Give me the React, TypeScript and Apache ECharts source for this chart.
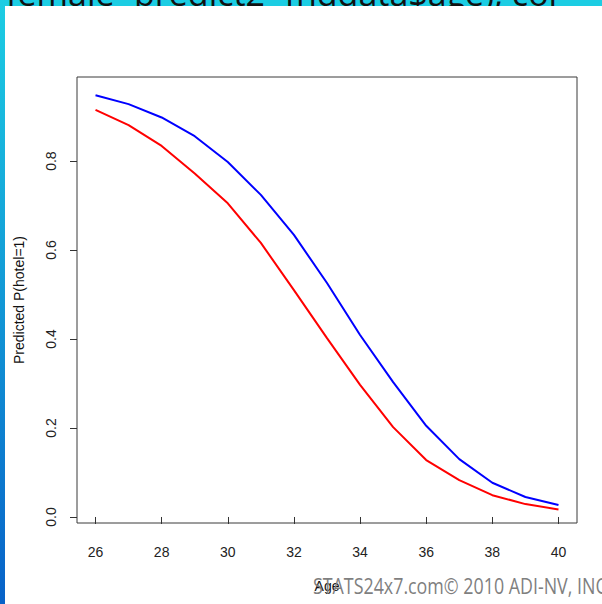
import React, { useEffect, useRef } from "react";
import * as echarts from "echarts";

const ages = [26, 27, 28, 29, 30, 31, 32, 33, 34, 35, 36, 37, 38, 39, 40];
const bluePred = [0.948, 0.928, 0.898, 0.856, 0.798, 0.724, 0.634, 0.526, 0.409, 0.303, 0.205, 0.13, 0.077, 0.045, 0.027];
const redPred = [0.915, 0.881, 0.834, 0.772, 0.705, 0.616, 0.51, 0.402, 0.297, 0.202, 0.128, 0.083, 0.049, 0.029, 0.017];
const xTicks = [26, 28, 30, 32, 34, 36, 38, 40];
const yTicks = [0, 0.2, 0.4, 0.6, 0.8];
const yTickLabels = ["0.0", "0.2", "0.4", "0.6", "0.8"];

export default function App() {
  const ref = useRef<HTMLDivElement>(null);
  useEffect(() => {
    if (!ref.current) return;
    const chart = echarts.init(ref.current, null, { renderer: "svg" });
    const font = "Liberation Sans, Arial, sans-serif";
    chart.setOption({
      animation: false,
      backgroundColor: "#ffffff",
      grid: { left: 77, top: 77, right: 25, bottom: 81, show: true, borderColor: "#3a3a3a", borderWidth: 1, backgroundColor: "transparent" },
      xAxis: {
        type: "value",
        min: 25.44,
        max: 40.56,
        name: "Age",
        nameLocation: "middle",
        nameGap: 56,
        nameTextStyle: { fontFamily: font, fontSize: 14, color: "#111" },
        axisLine: { show: false },
        splitLine: { show: false },
        axisTick: { show: true, inside: false, length: 7, lineStyle: { color: "#333" }, customValues: xTicks },
        axisLabel: { show: true, margin: 22, fontFamily: font, fontSize: 14, color: "#222", customValues: xTicks, formatter: (v: number) => String(v) },
      },
      yAxis: {
        type: "value",
        min: -0.0135,
        max: 0.989,
        name: "Predicted P(hotel=1)",
        nameLocation: "middle",
        nameRotate: 90,
        nameGap: 51,
        nameTextStyle: { fontFamily: font, fontSize: 14, color: "#111" },
        axisLine: { show: false },
        splitLine: { show: false },
        axisTick: { show: true, inside: false, length: 7, lineStyle: { color: "#333" }, customValues: yTicks },
        axisLabel: {
          show: true,
          rotate: 90,
          margin: 19,
          fontFamily: font,
          fontSize: 14,
          color: "#222",
          customValues: yTicks,
          formatter: (v: number) => yTickLabels[yTicks.findIndex((t) => Math.abs(t - v) < 1e-6)] ?? String(v),
        },
      },
      series: [
        {
          type: "line",
          name: "blue",
          data: ages.map((a, i) => [a, bluePred[i]]),
          showSymbol: false,
          lineStyle: { color: "#0000ff", width: 2 },
          itemStyle: { color: "#0000ff" },
        },
        {
          type: "line",
          name: "red",
          data: ages.map((a, i) => [a, redPred[i]]),
          showSymbol: false,
          lineStyle: { color: "#ff0000", width: 2 },
          itemStyle: { color: "#ff0000" },
        },
      ],
      graphic: [
        {
          type: "rect",
          shape: { x: 0, y: 0, width: 602, height: 6 },
          style: { fill: "#1ccde3" },
          z2: 1,
        },
        {
          type: "text",
          x: -4,
          y: 9.5,
          style: { text: "(female=predict2~fnddata$age), col", fontFamily: "Open Sans, sans-serif", fontSize: 34, fill: "#111", verticalAlign: "bottom" },
          z2: 2,
        },
        {
          type: "rect",
          shape: { x: 0, y: 6, width: 602, height: 40 },
          style: { fill: "#ffffff" },
          z2: 3,
        },
        {
          type: "rect",
          shape: { x: 0, y: 0, width: 5, height: 604 },
          style: {
            fill: new echarts.graphic.LinearGradient(0, 0, 0, 1, [
              { offset: 0, color: "#1ccde3" },
              { offset: 1, color: "#0862c8" },
            ]),
          },
          z2: 4,
        },
        {
          type: "text",
          x: 313,
          y: 575,
          scaleX: 0.85,
          style: { text: "STATS24x7.com\u00a9 2010 ADI-NV, INC", fontFamily: "Open Sans, sans-serif", fontSize: 21, fill: "#7f7f7f" },
          z2: 5,
        },
      ],
    });
    return () => chart.dispose();
  }, []);
  return <div ref={ref} style={{ position: "fixed", left: 0, top: 0, width: 602, height: 604 }} />;
}
